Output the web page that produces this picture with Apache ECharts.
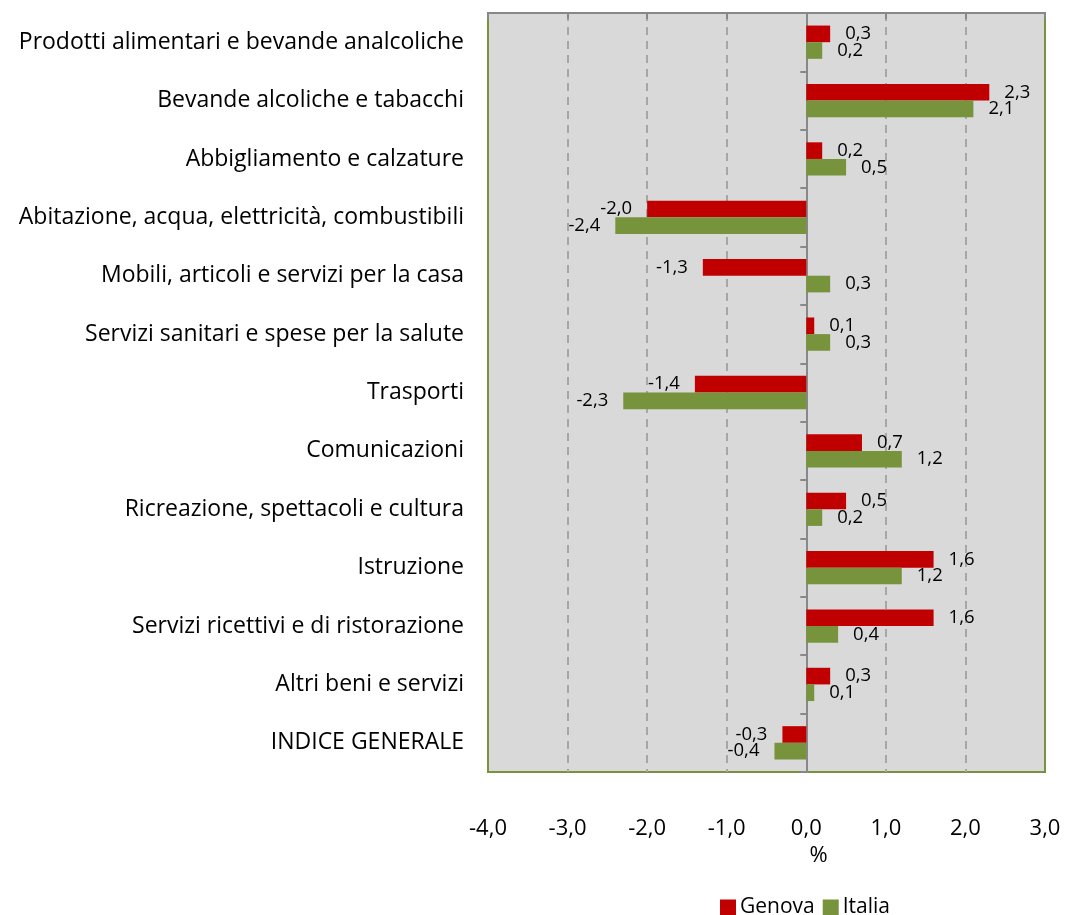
<!DOCTYPE html>
<html>
<head>
<meta charset="utf-8">
<script src="https://cdn.jsdelivr.net/npm/echarts@6/dist/echarts.min.js"></script>
<style>html,body{margin:0;padding:0;background:#fff}#c{width:1066px;height:915px}</style>
</head>
<body>
<div id="c"></div>
<script>
const categories = [
  "Prodotti alimentari e bevande analcoliche",
  "Bevande alcoliche e tabacchi",
  "Abbigliamento e calzature",
  "Abitazione, acqua, elettricità, combustibili",
  "Mobili, articoli e servizi per la casa",
  "Servizi sanitari e spese per la salute",
  "Trasporti",
  "Comunicazioni",
  "Ricreazione, spettacoli e cultura",
  "Istruzione",
  "Servizi ricettivi e di ristorazione",
  "Altri beni e servizi",
  "INDICE GENERALE"
];
const genova = [0.3, 2.3, 0.2, -2.0, -1.3, 0.1, -1.4, 0.7, 0.5, 1.6, 1.6, 0.3, -0.3];
const italia = [0.2, 2.1, 0.5, -2.4, 0.3, 0.3, -2.3, 1.2, 0.2, 1.2, 0.4, 0.1, -0.4];
const seriesNames = ["Genova", "Italia"];
const xMin = -4, xMax = 3, xStep = 1;

const FONT = "Open Sans";
const fmt = v => v.toFixed(1).replace('.', ',');
const lbl = {
  show: true,
  fontFamily: FONT, fontSize: 18.5, color: '#000',
  distance: 15,
  formatter: p => fmt(p.value)
};
function mk(vals, color, name) {
  return {
    name, type: 'bar', yAxisIndex: 0, xAxisIndex: 0,
    barGap: '0%', barCategoryGap: '43%',
    itemStyle: { color },
    data: vals.map(v => ({ value: v, label: { position: v < 0 ? 'left' : 'right' } })),
    label: lbl
  };
}
const chart = echarts.init(document.getElementById('c'), null, { renderer: 'canvas' });
chart.setOption({
  animation: false,
  backgroundColor: '#fff',
  grid: { left: 488, right: 21, top: 13, bottom: 143, show: true, backgroundColor: '#d9d9d9', borderColor: '#77933c', borderWidth: 2 },
  legend: {
    data: seriesNames, bottom: -8, left: 715, itemWidth: 16, itemHeight: 16, itemGap: 8,
    icon: 'rect',
    textStyle: { fontFamily: FONT, fontSize: 21, color: '#000', padding: [0, 0, 0, -1] }
  },
  xAxis: [{
    type: 'value', min: xMin, max: xMax, interval: xStep, position: 'bottom',
    name: '%', nameLocation: 'middle', nameGap: 69,
    nameTextStyle: { fontFamily: FONT, fontSize: 22, color: '#000', padding: [0, 0, 0, 104] },
    axisLine: { show: false }, axisTick: { show: false },
    axisLabel: { fontFamily: FONT, fontSize: 22, color: '#000', margin: 46, formatter: v => fmt(v) },
    splitLine: { show: true, showMinLine: false, showMaxLine: false, lineStyle: { color: '#a6a6a6', type: [8, 6], width: 2 } }
  }, {
    type: 'value', min: xMin, max: xMax, interval: xStep, position: 'top',
    axisLine: { show: true, lineStyle: { color: '#888', width: 2 } },
    axisTick: { show: true, inside: true, length: 6, lineStyle: { color: '#888', width: 2 } },
    axisLabel: { show: false }, splitLine: { show: false }
  }],
  yAxis: [{
    type: 'category', data: categories, inverse: true,
    axisLine: { show: false }, axisTick: { show: false },
    axisLabel: { fontFamily: FONT, fontSize: 23, color: '#000', margin: 24 }
  }, {
    type: 'category', data: categories, inverse: true, position: 'left',
    axisLine: { show: true, onZero: true, lineStyle: { color: '#888', width: 2 } },
    axisTick: { show: true, inside: false, length: 6, lineStyle: { color: '#888', width: 2 } },
    axisLabel: { show: false }
  }],
  series: [mk(genova, '#c00000', seriesNames[0]), mk(italia, '#77933c', seriesNames[1])]
});
</script>
</body>
</html>
